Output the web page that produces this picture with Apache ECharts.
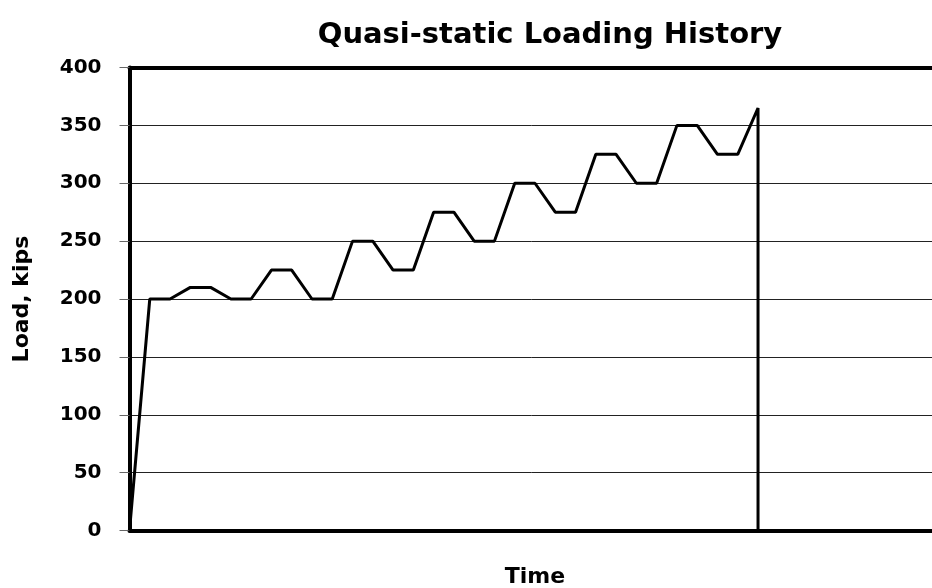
<!DOCTYPE html>
<html>
<head>
<meta charset="utf-8">
<script src="https://cdn.jsdelivr.net/npm/echarts@6/dist/echarts.min.js"></script>
<style>
    html, body { margin: 0; padding: 0; background: #fff; }
    #main { width: 932px; height: 588px; }
</style>
</head>
<body>
<div id="main"></div>
<script>
// time steps (arbitrary units) and load in kips
var time = [0, 1, 2, 3, 4, 5, 6, 7, 8, 9, 10, 11, 12, 13, 14, 15, 16,
    17, 18, 19, 20, 21, 22, 23, 24, 25, 26, 27, 28, 29, 30, 31, 31];
var load = [0, 200, 200, 210, 210, 200, 200, 225, 225, 200, 200, 250, 250,
    225, 225, 275, 275, 250, 250, 300, 300, 275, 275, 325, 325, 300, 300,
    350, 350, 325, 325, 365, 0];
var yTicks = [0, 50, 100, 150, 200, 250, 300, 350, 400];

var font = 'DejaVu Sans';
var points = time.map(function (t, i) { return [t, load[i]]; });

var myChart = echarts.init(document.getElementById('main'));
myChart.setOption({
    animation: false,
    backgroundColor: '#fff',
    title: {
        text: 'Quasi-static Loading History',
        left: 545,
        top: 16,
        textAlign: 'center',
        textStyle: { fontFamily: font, fontWeight: 'bold', fontSize: 29, color: '#000' }
    },
    // plot runs a little past the right edge of the picture
    grid: { left: 129.5, width: 811, top: 67.5, bottom: 57.5, outerBoundsMode: 'none', containLabel: false },
    xAxis: [
        {
            type: 'value',
            min: 0,
            max: 40,
            name: 'Time',
            nameLocation: 'middle',
            nameGap: 36,
            nameTextStyle: { fontFamily: font, fontWeight: 'bold', fontSize: 22, color: '#000' },
            axisLine: { show: true, onZero: false, lineStyle: { color: '#000', width: 4 } },
            axisTick: { show: false },
            axisLabel: { show: false },
            splitLine: { show: false }
        },
        {
            type: 'value',
            position: 'top',
            min: 0,
            max: 40,
            axisLine: { show: true, onZero: false, lineStyle: { color: '#000', width: 4 } },
            axisTick: { show: false },
            axisLabel: { show: false },
            splitLine: { show: false }
        }
    ],
    yAxis: {
        type: 'value',
        min: yTicks[0],
        max: yTicks[yTicks.length - 1],
        interval: yTicks[1] - yTicks[0],
        name: 'Load, kips',
        nameLocation: 'middle',
        nameGap: 96,
        nameRotate: 90,
        nameTextStyle: { fontFamily: font, fontWeight: 'bold', fontSize: 22, color: '#000' },
        axisLine: { show: true, onZero: false, lineStyle: { color: '#000', width: 4 } },
        axisTick: { show: true, inside: false, length: 10, lineStyle: { color: '#666', width: 1 } },
        axisLabel: { margin: 28, fontFamily: font, fontWeight: 'bold', fontSize: 20, color: '#000' },
        splitLine: { show: true, lineStyle: { color: '#222', width: 1 } }
    },
    series: [
        {
            type: 'line',
            data: points,
            showSymbol: false,
            symbol: 'none',
            lineStyle: { color: '#000', width: 3 },
            silent: true
        }
    ]
});
</script>
</body>
</html>
